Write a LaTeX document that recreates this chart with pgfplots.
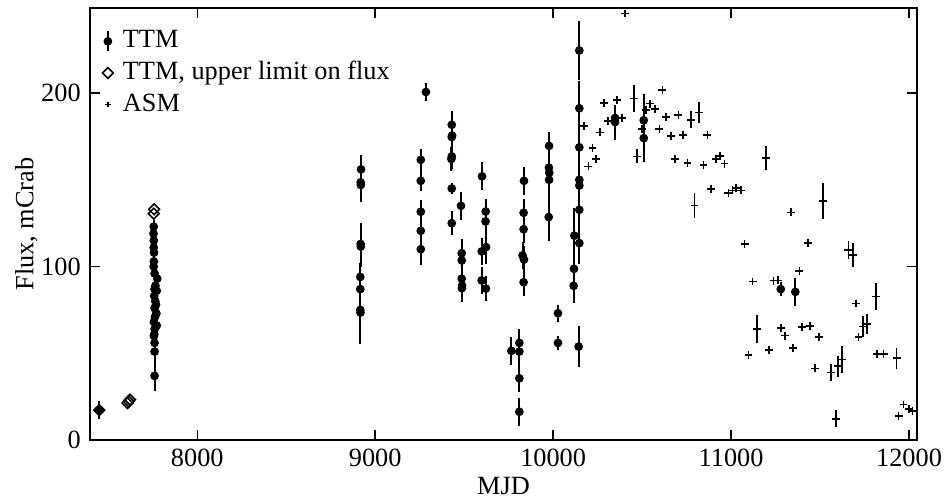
\documentclass[border=0pt]{standalone}
\usepackage{fontspec}
\setmainfont{Liberation Serif}
\usepackage{pgfplots}
\pgfplotsset{compat=1.18}
\begin{document}
\begin{tikzpicture}
\begin{axis}[
  name=ax,
  scale only axis,
  width=314.3pt, height=164.2pt,
  xmin=7397, xmax=12045, ymin=0, ymax=249,
  xtick={8000,9000,10000,11000,12000},
  ytick={0,100,200},
  scaled x ticks=false, scaled y ticks=false,
  minor tick num=0,
  tick align=inside,
  major tick length=3.8pt,
  tick style={line width=0.6pt, black},
  axis line style={line width=0.7pt},
  /pgf/number format/1000 sep={},
  /pgf/number format/assume math mode=true,
  xlabel={MJD}, ylabel={Flux, mCrab},
  xlabel style={at={(axis description cs:0.5,0)}, anchor=north, yshift=-10.7pt},
  ylabel style={at={(axis description cs:-0.0522,0.5)}, anchor=south},
  legend style={at={(axis description cs:0,1)}, anchor=north west, xshift=3.4pt, yshift=-6.5pt,
    draw=none, fill=none, inner sep=0pt, row sep=0pt, column sep=1pt,
    nodes={inner sep=1.5pt, text height=7pt, text depth=2pt}},
  legend cell align=left,
]
\addlegendimage{legend image code/.code={
  \path (-3pt,0) (3pt,0);
  \draw[line width=0.75pt] (0pt,-3.8pt) -- (0pt,3.8pt);
  \fill (0pt,0pt) circle (1.45pt);}}
\addlegendentry{TTM}
\addlegendimage{legend image code/.code={
  \path (-3pt,0) (3pt,0);
  \draw[line width=0.6pt, fill=white, rotate=45] (-1.45pt,-1.45pt) rectangle (1.45pt,1.45pt);}}
\addlegendentry{TTM, upper limit on flux}
\addlegendimage{legend image code/.code={
  \path (-3pt,0) (3pt,0);
  \draw[line width=0.6pt] (-1.1pt,0pt) -- (1.1pt,0pt) (0pt,-1.1pt) -- (0pt,1.1pt);}}
\addlegendentry{ASM}
% upper limits
\addplot[forget plot, only marks, black, mark=square, mark size=1.45pt,
  mark options={rotate=45, fill=white, line width=0.6pt}]
  table[x=x, y=y] {
x y
7449 17.3
7608 21.3
7615 22.3
7622 23.3
7755 130.5
7757 133
};
% TTM
\addplot[forget plot, only marks, black, mark=*, mark size=1.45pt,
  error bars/.cd, y dir=both, y explicit, error mark=none, error bar style={line width=0.75pt}]
  table[x=x, y=y, y error=e] {
x y e
7449 17.3 5
7755 123 4
7754 119 4
7756 115 4
7755 111 4
7757 108 4
7756 103 4
7755 100 4
7760 96 4
7775 93 4
7765 89 5
7760 87 5
7772 86 5
7758 83 5
7764 80 5
7768 78 5
7760 76 5
7770 73 5
7762 71 5
7756 68 5
7772 66 5
7760 64 5
7758 61 5
7756 60 5
7760 56 6
7760 51 6
7760 37 9
8920 156 8
8918 148.5 10
8919 147 10
8918 113 12
8919 111.5 12
8916 94 8
8916 87 8
8916 75 16
8917 73.5 18
9256 161.5 6
9256 149.4 6
9256 131.6 7
9256 120.6 7
9256 110 9
9285 200.6 5
9430 181.7 8
9432 175.5 6
9430 174.6 6
9430 163.5 7
9428 162 7
9430 145 3
9430 125 7
9482 135 8
9486 107.7 8
9486 103.5 8
9486 93 8
9488 89 8
9487 87.5 8
9600 152 8
9598 108.7 8
9598 92 8
9621 131.7 7
9620 126 8
9623 111.2 10
9622 87.3 7
9765 51.4 8
9810 56 8
9810 51 8
9810 35.6 8
9810 16.3 8
9836 149.4 8
9834 131 8
9834 121.5 8
9828 106.4 8
9836 104 8
9834 91 8
9977 169.5 8
9976 157 8
9978 154 8
9977 150 8
9975 128.5 14
10027 73.1 5
10027 56 4
10119 117.8 16
10117 98.7 10
10115 88.9 10
10147 224.5 17
10147 191.2 16
10147 168.7 10
10147 150 10
10147 146.7 10
10147 132.7 10
10147 113.5 12
10143 53.9 12
10348 185.6 7
10348 183.2 10
10509 184.3 15
10509 174 14
11279 87 4
11361 85.4 8
};
% ASM
\addplot[forget plot, only marks, black, mark=+, mark size=1.5pt, mark options={line width=0.65pt},
  error bars/.cd, y dir=both, y explicit, error mark=none, error bar style={line width=0.65pt}]
  table[x=x, y=y, y error=e] {
x y e
10174 180.8 0
10198 157.7 0
10221 168.3 0
10241 162 0
10264 177.3 0
10284 194.3 0
10310 183.7 0
10357 195.8 0
10387 185.6 0
10404 245.8 0
10453 196.8 8
10471 163.5 4
10500 179.3 0
10520 190.4 0
10543 193.9 0
10571 190.6 0
10597 179.3 0
10614 201.6 0
10633 186 0
10663 175.4 0
10686 162 0
10704 187.5 0
10728 176 0
10755 159.7 0
10775 184.6 5
10794 135.2 7
10820 188.8 6
10845 158.7 0
10867 176 0
10886 144.8 0
10916 162.1 0
10938 163.9 0
10963 159.3 0
10985 142.3 0
11008 143.9 0
11028 145.2 0
11056 143.9 0
11076 112.9 0
11098 48.9 0
11121 91.4 0
11145 63.9 8
11195 162.5 7
11212 51.9 0
11239 91.9 0
11262 92 0
11279 64.4 0
11302 60.2 0
11337 131.2 0
11349 52.9 0
11384 97.5 0
11398 65.2 0
11431 113.5 0
11442 65.8 0
11471 41.3 0
11494 59.2 0
11517 137.9 10.5
11563 38.9 5
11591 12.3 5
11602 42.5 6
11625 46.4 8
11659 109.6 5
11684 106.7 7
11700 78.7 0
11716 59.4 0
11742 65.4 6
11763 66.9 6
11816 82.7 8
11821 49.7 0
11857 49.4 0
11930 47.1 6
11941 13.9 0
11969 20.5 0
12000 18 0
12020 16.9 0
};
\end{axis}
\pgfresetboundingbox
\path ([xshift=-34.2pt,yshift=-22.4pt]ax.south west) rectangle ([xshift=11pt,yshift=3.04pt]ax.north east);
\end{tikzpicture}
\end{document}
